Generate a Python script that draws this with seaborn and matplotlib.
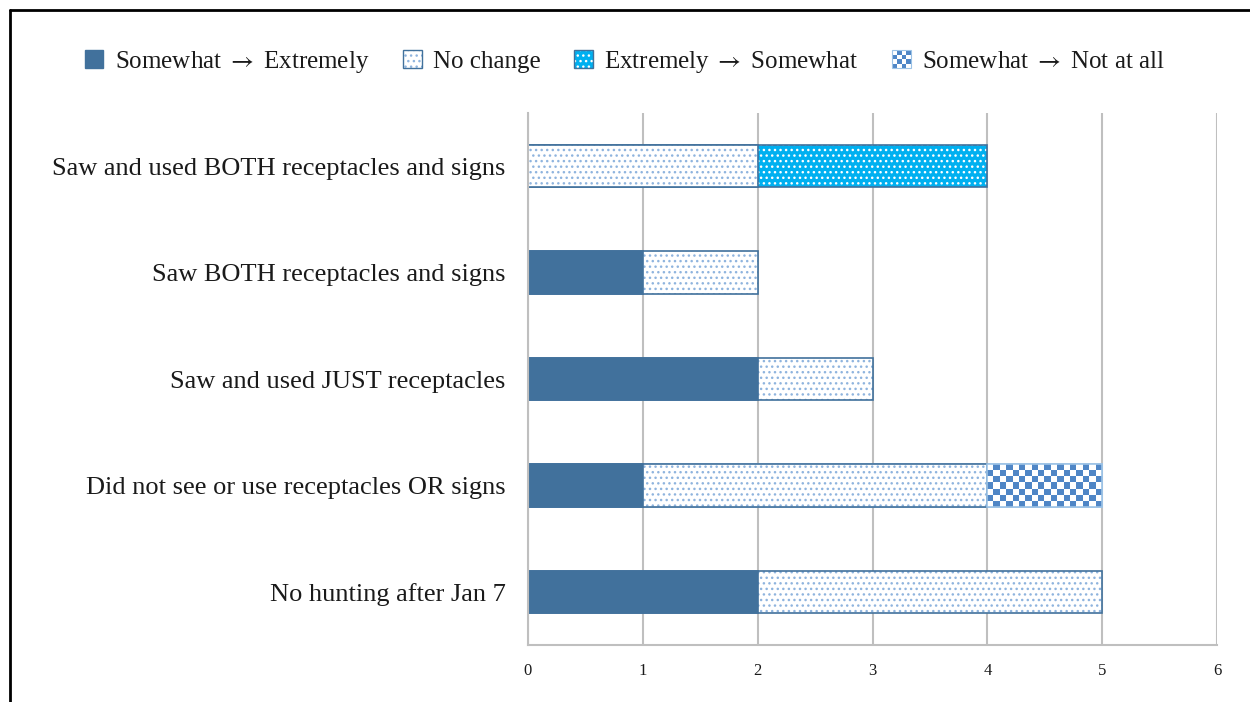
import numpy as np
import pandas as pd
import matplotlib
matplotlib.use("Agg")
import matplotlib.pyplot as plt
import seaborn as sns
from matplotlib.patches import Patch, Rectangle
from matplotlib.lines import Line2D
from matplotlib.colors import to_rgba, ListedColormap
from matplotlib.legend_handler import HandlerBase

# ---------------- data ----------------
categories = [
    "Saw and used BOTH receptacles and signs",
    "Saw BOTH receptacles and signs",
    "Saw and used JUST receptacles",
    "Did not see or use receptacles OR signs",
    "No hunting after Jan 7",
]
somewhat_to_extremely = [0, 1, 2, 1, 2]
no_change = [2, 1, 1, 3, 3]
extremely_to_somewhat = [2, 0, 0, 0, 0]
somewhat_to_not_at_all = [0, 0, 0, 1, 0]
series_labels = ["Somewhat $\\rightarrow$ Extremely", "No change",
                 "Extremely $\\rightarrow$ Somewhat", "Somewhat $\\rightarrow$ Not at all"]
x_ticks = [0, 1, 2, 3, 4, 5, 6]

# ---------------- style ----------------
sns.set_theme(style="white")
plt.rcParams['font.family'] = ['Liberation Serif', 'DejaVu Serif']
plt.rcParams['mathtext.fontset'] = 'stix'
plt.rcParams['hatch.linewidth'] = 1.0

DARK = '#41719C'
CYAN = '#00B0F0'
CHECK = '#4F86C6'
CHECK_EDGE = '#9DC3E6'
DOT = '#8FB4DE'

styles = [
    dict(face=DARK, hatch=None, hatchc=None, edge=DARK),
    dict(face='white', hatch='...', hatchc=DOT, edge=DARK),
    dict(face=CYAN, hatch='...', hatchc='white', edge=DARK),
    dict(face='white', hatch=None, hatchc=None, edge=CHECK_EDGE),
]

fig = plt.figure(figsize=(12.5, 7.02), dpi=100)
ax = fig.add_axes([0.4224, 0.0812, 0.5512, 0.7578])

segs = np.array([somewhat_to_extremely, no_change,
                 extremely_to_somewhat, somewhat_to_not_at_all], dtype=float)
cum = segs.cumsum(axis=0)


def checker_image(ax, left, right, y0, y1, z, clip):
    ncols = max(1, int(round((right - left) * 18)))
    nrows = 7
    arr = np.add.outer(np.arange(nrows), np.arange(ncols)) % 2
    im = ax.imshow(arr, cmap=ListedColormap(['white', CHECK]),
                   extent=(left, right, y1, y0), aspect='auto',
                   interpolation='nearest', zorder=z)
    im.set_clip_path(clip)
    return im


for k in reversed(range(4)):
    vals = np.where(segs[k] > 0, cum[k], np.nan)
    df = pd.DataFrame({'cat': categories, 'val': vals})
    n0 = len(ax.patches)
    sns.barplot(data=df, x='val', y='cat', order=categories, orient='h',
                width=0.4, saturation=1, color=styles[k]['face'],
                errorbar=None, ax=ax)
    st = styles[k]
    for p in ax.patches[n0:]:
        if not np.isfinite(p.get_width()) or p.get_width() == 0:
            continue
        p.set_facecolor(st['face'])
        p.set_edgecolor(st['edge'])
        p.set_linewidth(1.2)
        p.set_zorder(2)
        if st['hatch']:
            p.set_hatch(st['hatch'])
            p._hatch_color = to_rgba(st['hatchc'])
        if k == 3:
            i = int(round(p.get_y() + p.get_height() / 2))
            left = p.get_width() - segs[3][i]
            checker_image(ax, left, p.get_width(), p.get_y(),
                          p.get_y() + p.get_height(), 2.5, p)
            ol = Rectangle((left, p.get_y()), segs[3][i], p.get_height(),
                           fill=False, edgecolor=CHECK_EDGE, lw=1.2, zorder=2.6)
            ax.add_patch(ol)

ax.set_xlim(0, 6)
ax.set_ylim(len(categories) - 0.5, -0.5)
ax.set_xticks(x_ticks)
ax.set_xticklabels([str(t) for t in x_ticks])
ax.set_xlabel('')
ax.set_ylabel('')
ax.set_axisbelow(True)
ax.grid(axis='x', color='#BFBFBF', lw=1.5)
ax.grid(axis='y', visible=False)
for s in ['top', 'right']:
    ax.spines[s].set_visible(False)
for s in ['left', 'bottom']:
    ax.spines[s].set_color('#BFBFBF')
    ax.spines[s].set_linewidth(1.5)
ax.tick_params(axis='y', length=0, pad=16, labelsize=19, labelcolor='#1a1a1a')
ax.tick_params(axis='x', length=0, pad=13, labelsize=12, labelcolor='#1a1a1a')


# ---------------- legend ----------------
class CheckerHandler(HandlerBase):
    def create_artists(self, legend, orig_handle, xdescent, ydescent,
                       width, height, fontsize, trans):
        arts = []
        n = 4
        w = width / n
        h = height / n
        for r in range(n):
            for c in range(n):
                col = CHECK if (r + c) % 2 == 0 else 'white'
                arts.append(Rectangle((-xdescent + c * w, -ydescent + r * h), w, h,
                                      facecolor=col, edgecolor='none', transform=trans))
        arts.append(Rectangle((-xdescent, -ydescent), width, height,
                              fill=False, edgecolor=CHECK_EDGE, lw=0.8, transform=trans))
        return arts


h1 = Patch(facecolor=DARK, edgecolor=DARK)
h2 = Patch(facecolor='white', edgecolor=DARK, hatch='...')
h2._hatch_color = to_rgba(DOT)
h3 = Patch(facecolor=CYAN, edgecolor=DARK, hatch='...')
h3._hatch_color = to_rgba('white')
h4 = Patch(facecolor='white', edgecolor=CHECK_EDGE)

fig.legend([h1, h2, h3, h4], series_labels, loc='center',
           bbox_to_anchor=(0.5, 1 - 62 / 702), ncol=4, frameon=False,
           fontsize=18, handlelength=0.75, handleheight=0.75,
           columnspacing=1.35, handletextpad=0.45,
           handler_map={h4: CheckerHandler()}, labelcolor='#1a1a1a')

# ---------------- frame lines ----------------
fig.add_artist(Line2D([10 / 1250, 1], [1 - 10 / 702] * 2,
                      transform=fig.transFigure, color='black', lw=2))
fig.add_artist(Line2D([10 / 1250] * 2, [0, 1 - 10 / 702],
                      transform=fig.transFigure, color='black', lw=2))

fig.savefig('out.png', dpi=100)
